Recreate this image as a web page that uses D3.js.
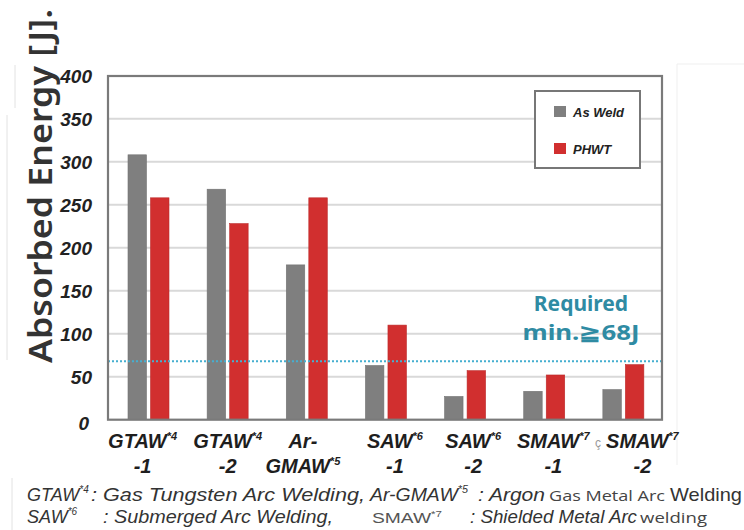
<!DOCTYPE html>
<html><head><meta charset="utf-8">
<script src="https://cdn.jsdelivr.net/npm/d3@7"></script>
<style>body{margin:0;background:#fff}svg{display:block}</style>
</head><body><svg id="c" width="744" height="530"></svg>
<script>
const categories = ["GTAW-1","GTAW-2","Ar-GMAW","SAW-1","SAW-2","SMAW-1","SMAW-2"];
const labelLine1 = ["GTAW","GTAW","Ar-","SAW","SAW","SMAW","SMAW"];
const labelSup1  = ["*4","*4","","*6","*6","*7","*7"];
const labelLine2 = ["-1","-2","GMAW","-1","-2","-1","-2"];
const labelSup2  = ["","","*5","","","",""];
const seriesNames = ["As Weld","PHWT"];
const asWeld = [308,268,180,63,27,33,35];
const phwt   = [258,228,258,110,57,52,64];
const yTicks = [0,50,100,150,200,250,300,350,400];
const requiredMin = 68;
const labelDx = [-5,1,-3,10,9,10,20];

const svg = d3.select("#c");
const colors = {"As Weld":"#7f7f7f","PHWT":"#d12f2f"};
const L=108,R=662,T=76,B=419.7;
const x0 = d3.scaleBand().domain(categories).range([L,R]).padding(0);
const x1 = d3.scaleBand().domain(seriesNames).range([20,61]).paddingInner(0.18);
const y = d3.scaleLinear().domain([0,400]).range([B,75.7]);

// faint artifacts
const faint = svg.append("g").attr("stroke","#e2e2e2").attr("stroke-width",1);
faint.append("line").attr("x1",15).attr("x2",15).attr("y1",65).attr("y2",108);
faint.append("line").attr("x1",7).attr("x2",7).attr("y1",115).attr("y2",360);
faint.append("line").attr("x1",12).attr("x2",12).attr("y1",478).attr("y2",530);
faint.append("path").attr("fill","none").attr("stroke","#efefef").attr("d","M744,64H677V465");

// gridlines
svg.append("g").selectAll("line").data(yTicks.filter(d=>d>0 && d<400)).join("line")
  .attr("x1",L).attr("x2",R).attr("y1",d=>y(d)).attr("y2",d=>y(d))
  .attr("stroke","#d9d9d9").attr("stroke-width",2);

// y axis labels
const yAxis = d3.axisLeft(y).tickValues(yTicks).tickSize(0).tickPadding(0);
const ya = svg.append("g").attr("transform","translate(92,0)").call(yAxis);
ya.select(".domain").remove();
ya.selectAll("text").attr("font-family","Liberation Sans, Arial, sans-serif")
  .attr("font-size",19).attr("font-weight","bold").attr("font-style","italic")
  .attr("fill","#222").attr("dy","0.36em");
ya.selectAll(".tick").filter(d=>d===0).select("text").attr("dx",-3).attr("dy","0.5em");

// bars
const series = [asWeld, phwt];
const gBars = svg.append("g");
categories.forEach((c,i)=>{
  seriesNames.forEach((s,j)=>{
    gBars.append("rect")
      .attr("x", x0(c)+x1(s)).attr("width", x1.bandwidth())
      .attr("y", y(series[j][i])).attr("height", B - y(series[j][i]))
      .attr("fill", colors[s]).attr("stroke", d3.color(colors[s]).darker(0.3)).attr("stroke-width",0.6);
  });
});

// required dotted line
svg.append("line").attr("x1",L).attr("x2",R).attr("y1",y(requiredMin)).attr("y2",y(requiredMin))
  .attr("stroke","#45afd0").attr("stroke-width",2).attr("stroke-dasharray","2,2");

// frame
svg.append("rect").attr("x",L).attr("y",T).attr("width",R-L).attr("height",B-T)
  .attr("fill","none").attr("stroke","#7a7a7a").attr("stroke-width",2.2);

// required text
const req = svg.append("g").attr("font-family","Noto Sans, Open Sans, sans-serif").attr("font-weight","bold")
  .attr("fill","#2f8ba3").attr("text-anchor","middle");
req.append("text").attr("x",581).attr("y",311).attr("font-size",21).text("Required");
req.append("text").attr("x",581).attr("y",340).attr("font-size",21).attr("textLength",117)
  .attr("lengthAdjust","spacingAndGlyphs").text("min.\u226768J");

// legend
const lg = svg.append("g");
lg.append("rect").attr("x",535).attr("y",91).attr("width",105).attr("height",77)
  .attr("fill","#fff").attr("stroke","#777").attr("stroke-width",2);
seriesNames.forEach((s,i)=>{
  const yy = 106 + i*37;
  lg.append("rect").attr("x",554).attr("y",yy).attr("width",12).attr("height",11).attr("fill",colors[s]);
  lg.append("text").attr("x",573).attr("y",yy+11).attr("font-family","Liberation Sans, Arial, sans-serif")
    .attr("font-size",13).attr("font-weight","bold").attr("font-style","italic").attr("fill","#222").text(s);
});

// category labels
const cl = svg.append("g").attr("font-family","Liberation Sans, Arial, sans-serif")
  .attr("font-weight","bold").attr("font-style","italic").attr("fill","#1e1e1e").attr("text-anchor","middle");
categories.forEach((c,i)=>{
  const cx = x0(c) + x0.bandwidth()/2 + labelDx[i];
  const t1 = cl.append("text").attr("x",cx).attr("y",448).attr("font-size",20);
  t1.append("tspan").text(labelLine1[i]);
  if (labelSup1[i]) t1.append("tspan").attr("font-size",11).attr("dy",-8).text(labelSup1[i]);
  const t2 = cl.append("text").attr("x",cx).attr("y",473).attr("font-size",20);
  t2.append("tspan").text(labelLine2[i]);
  if (labelSup2[i]) t2.append("tspan").attr("font-size",11).attr("dy",-8).text(labelSup2[i]);
});
cl.append("text").attr("x",598).attr("y",447).attr("font-size",12).attr("font-weight","normal")
  .attr("font-style","normal").attr("fill","#999").text("\u00e7");

// y-axis title
svg.append("text").attr("transform","translate(52,363) rotate(-90)")
  .attr("font-family","Noto Sans, Open Sans, sans-serif").attr("font-size",33).attr("font-weight",600)
  .attr("fill","#333").attr("textLength",354).attr("lengthAdjust","spacingAndGlyphs")
  .text("Absorbed Energy [J].");

// footnotes
const fn = svg.append("g").attr("fill","#333");
function seg(x, yb, txt, len, opts){
  const t = fn.append("text").attr("x",x).attr("y",yb)
    .attr("font-family", opts.fam || "Liberation Sans, Arial, sans-serif")
    .attr("font-size", opts.size || 18).attr("font-style", opts.style || "italic")
    .attr("fill", opts.fill || "#333");
  t.append("tspan").text(txt);
  if (opts.sup){ t.append("tspan").attr("font-size",opts.supSize || 10).attr("dy",opts.supDy || -8).text(opts.sup); }
  if (len) t.attr("textLength",len).attr("lengthAdjust","spacingAndGlyphs");
  return t;
}
seg(27,501,"GTAW",null,{sup:"*4"});
seg(91,501,": Gas Tungsten Arc Welding,",274,{});
seg(370,501,"Ar-GMAW",98,{sup:"*5"});
seg(478,501,": Argon",67,{});
seg(549,501,"Gas Metal Arc",116,{fam:"Open Sans, sans-serif",size:15,style:"normal",fill:"#444"});
seg(670,501,"Welding",72,{style:"normal",size:19});
seg(27,523,"SAW",null,{sup:"*6"});
seg(103,523,": Submerged Arc Welding,",230,{});
seg(372,523,"SMAW",70,{fam:"Liberation Sans, Arial, sans-serif",size:15,style:"normal",fill:"#555",sup:"*7",supSize:9,supDy:-6});
seg(470,523,": Shielded Metal Arc",167,{});
seg(640,523,"welding",67,{fam:"Open Sans, sans-serif",size:15,style:"normal",fill:"#444"});
</script></body></html>
